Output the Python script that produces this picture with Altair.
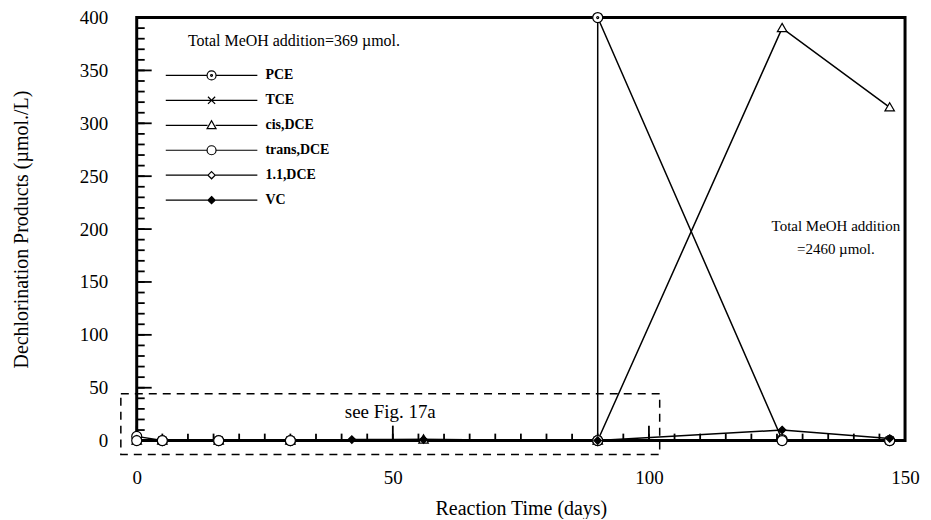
import altair as alt
import pandas as pd

# ---------------- data ----------------
series_order = ["PCE", "TCE", "cis,DCE", "trans,DCE", "1.1,DCE", "VC"]

pce_days = [0, 5, 16, 30, 90, 90, 126, 147]
pce_conc = [4, 0, 0, 0, 0, 400, 1, 0]

tce_days = [0, 5, 16, 30, 90, 126, 147]
tce_conc = [0, 0, 0, 0, 0, 0, 0]

cis_days = [0, 5, 16, 30, 56, 90, 126, 147]
cis_conc = [0, 0, 0, 0, 1, 0, 390, 315]

trans_days = [0, 5, 16, 30, 90, 126, 147]
trans_conc = [0, 0, 0, 0, 0, 0, 0]

dce11_days = [0, 5, 16, 30, 90, 126, 147]
dce11_conc = [0, 0, 0, 0, 0, 0, 0]

vc_days = [42, 56, 90, 126, 147]
vc_conc = [1, 1, 0, 10, 2]

x_ticks_major = [0, 50, 100, 150]
y_ticks_major = [0, 50, 100, 150, 200, 250, 300, 350, 400]
x_ticks_minor = list(range(0, 151, 5))
y_ticks_minor = list(range(0, 401, 10))

top_text = ["Total MeOH addition=369 µmol."]
top_x = [10.0]
top_y = [378]

right_text = ["Total MeOH addition", "=2460 µmol."]
right_x = [136.5, 136.5]
right_y = [203, 181]

see_text = ["see Fig. 17a"]
see_x = [49.5]
see_y = [27]

box_x1 = [-3.1]
box_x2 = [102.1]
box_y1 = [44.3]
box_y2 = [-13.2]

# ---------------- build tables ----------------
draw_sets = [
    ("1.1,DCE", dce11_days, dce11_conc),
    ("TCE", tce_days, tce_conc),
    ("cis,DCE", cis_days, cis_conc),
    ("PCE", pce_days, pce_conc),
    ("trans,DCE", trans_days, trans_conc),
    ("VC", vc_days, vc_conc),
]
rows = []
for name, days, conc in draw_sets:
    for i, (d, c) in enumerate(zip(days, conc)):
        rows.append({"series": name, "day": d, "conc": c, "idx": i})
df = pd.DataFrame(rows)

top_df = pd.DataFrame({"text": top_text, "x": top_x, "y": top_y})
right_df = pd.DataFrame({"text": right_text, "x": right_x, "y": right_y})
see_df = pd.DataFrame({"text": see_text, "x": see_x, "y": see_y})
box_df = pd.DataFrame({"x1": box_x1, "x2": box_x2, "y1": box_y1, "y2": box_y2})
xmin_df = pd.DataFrame({"v": x_ticks_minor})
xmaj_df = pd.DataFrame({"v": x_ticks_major})
ymin_df = pd.DataFrame({"v": y_ticks_minor})
ymaj_df = pd.DataFrame({"v": y_ticks_major})

FONT = "Liberation Serif"
W, H = 770, 424

x_scale = alt.Scale(domain=[0, 150], nice=False)
y_scale = alt.Scale(domain=[0, 400], nice=False)

x_axis = alt.Axis(values=x_ticks_major, title="Reaction Time (days)", grid=False, ticks=False,
                  tickSize=0, domain=False, labelPadding=28, titlePadding=11, labelFlush=False)
y_axis = alt.Axis(values=y_ticks_major, title="Dechlorination Products (µmol./L)", grid=False,
                  ticks=False, tickSize=0, domain=False, labelPadding=29, titlePadding=48)


def X(field):
    return alt.X(field, scale=x_scale, axis=x_axis)


def Y(field):
    return alt.Y(field, scale=y_scale, axis=y_axis)


# plot marker shapes (unit coordinates)
plot_paths = [
    "M1,0A1,1,0,1,1,-1,0A1,1,0,1,1,1,0ZM0.2,0A0.2,0.2,0,1,1,-0.2,0A0.2,0.2,0,1,1,0.2,0Z",
    "M-0.8,-0.8L0.8,0.8M-0.8,0.8L0.8,-0.8",
    "M0,-0.95L0.95,0.7L-0.95,0.7Z",
    "circle",
    "M0,-0.75L0.75,0L0,0.75L-0.75,0Z",
    "M0,-0.75L0.75,0L0,0.75L-0.75,0Z",
]
fills = ["white", "white", "white", "white", "white", "black"]
strokes = ["black"] * 6

L = "10.2"
legend_paths = [
    f"M-{L},0L-1,0M1,0L{L},0M1,0A1,1,0,1,1,-1,0A1,1,0,1,1,1,0ZM0.2,0A0.2,0.2,0,1,1,-0.2,0A0.2,0.2,0,1,1,0.2,0Z",
    f"M-{L},0L{L},0M-0.8,-0.8L0.8,0.8M-0.8,0.8L0.8,-0.8",
    f"M-{L},0L-0.9,0M0.9,0L{L},0M0,-1L1,0.75L-1,0.75Z",
    f"M-{L},0L-1,0M1,0L{L},0M1,0A1,1,0,1,1,-1,0A1,1,0,1,1,1,0Z",
    f"M-{L},0L-0.8,0M0.8,0L{L},0M0,-0.8L0.8,0L0,0.8L-0.8,0Z",
    f"M-{L},0L{L},0M0,-0.8L0.8,0L0,0.8L-0.8,0Z",
]

base = alt.Chart(df)

lines = base.mark_line(color="black", strokeWidth=1.5).encode(
    x=X("day:Q"),
    y=Y("conc:Q"),
    detail="series:N",
    order="idx:Q",
)

points = base.mark_point(stroke="black", strokeWidth=1.2, size=100, opacity=1).encode(
    x=X("day:Q"),
    y=Y("conc:Q"),
    shape=alt.Shape("series:N", scale=alt.Scale(domain=series_order, range=plot_paths), legend=None),
    fill=alt.Fill("series:N", scale=alt.Scale(domain=series_order, range=fills), legend=None),
)

leg = alt.Legend(orient="none", legendX=68, legendY=51, title=None, labelFont=FONT,
                 labelFontSize=14, labelFontWeight="bold", labelColor="black", labelOffset=47,
                 rowPadding=11, symbolStrokeWidth=1.2, symbolStrokeColor="black",
                 symbolSize=81, padding=0, symbolOpacity=1)

legend_layer = alt.Chart(df).transform_filter("datum.day < -1000").mark_point(
    strokeWidth=1.2, size=81, opacity=1
).encode(
    x=X("day:Q"),
    y=Y("conc:Q"),
    shape=alt.Shape("series:N", scale=alt.Scale(domain=series_order, range=legend_paths), legend=leg),
    fill=alt.Fill("series:N", scale=alt.Scale(domain=series_order, range=fills), legend=leg),
    stroke=alt.Stroke("series:N", scale=alt.Scale(domain=series_order, range=strokes), legend=leg),
)

top_ann = alt.Chart(top_df).mark_text(font=FONT, fontSize=16, baseline="middle", align="left",
                                      color="black").encode(
    x=X("x:Q"), y=Y("y:Q"), text="text:N",
)

right_ann = alt.Chart(right_df).mark_text(font=FONT, fontSize=15, baseline="middle", align="center",
                                          color="black").encode(
    x=X("x:Q"), y=Y("y:Q"), text="text:N",
)

see = alt.Chart(see_df).mark_text(font=FONT, fontSize=19, baseline="middle", align="center",
                                  color="black").encode(
    x=X("x:Q"), y=Y("y:Q"), text="text:N",
)

box = alt.Chart(box_df).mark_rect(fill=None, stroke="black", strokeWidth=1.5,
                                  strokeDash=[8, 6]).encode(
    x=X("x1:Q"), x2="x2:Q", y=Y("y1:Q"), y2="y2:Q",
)

xminor = alt.Chart(xmin_df).mark_rule(color="black", strokeWidth=1.8).encode(
    x=X("v:Q"), y=alt.value(H), y2=alt.value(H - 7))
xmajor = alt.Chart(xmaj_df).mark_rule(color="black", strokeWidth=1.8).encode(
    x=X("v:Q"), y=alt.value(H), y2=alt.value(H - 15))
yminor = alt.Chart(ymin_df).mark_rule(color="black", strokeWidth=1.8).encode(
    y=Y("v:Q"), x=alt.value(0), x2=alt.value(8))
ymajor = alt.Chart(ymaj_df).mark_rule(color="black", strokeWidth=1.8).encode(
    y=Y("v:Q"), x=alt.value(0), x2=alt.value(15))

chart = alt.layer(
    lines, xminor, xmajor, yminor, ymajor, box, see, top_ann, right_ann, points, legend_layer
).resolve_scale(
    shape="independent", fill="independent", stroke="independent"
).properties(
    width=W, height=H,
    padding={"left": 3, "top": 0, "right": 3, "bottom": 0},
    background="white",
).configure_view(
    stroke="black", strokeWidth=3
).configure_axis(
    labelFont=FONT, labelFontSize=19, labelColor="black",
    titleFont=FONT, titleFontSize=20, titleFontWeight="normal", titleColor="black",
)

chart.save("out.html", embed_options={"renderer": "svg", "actions": False})
